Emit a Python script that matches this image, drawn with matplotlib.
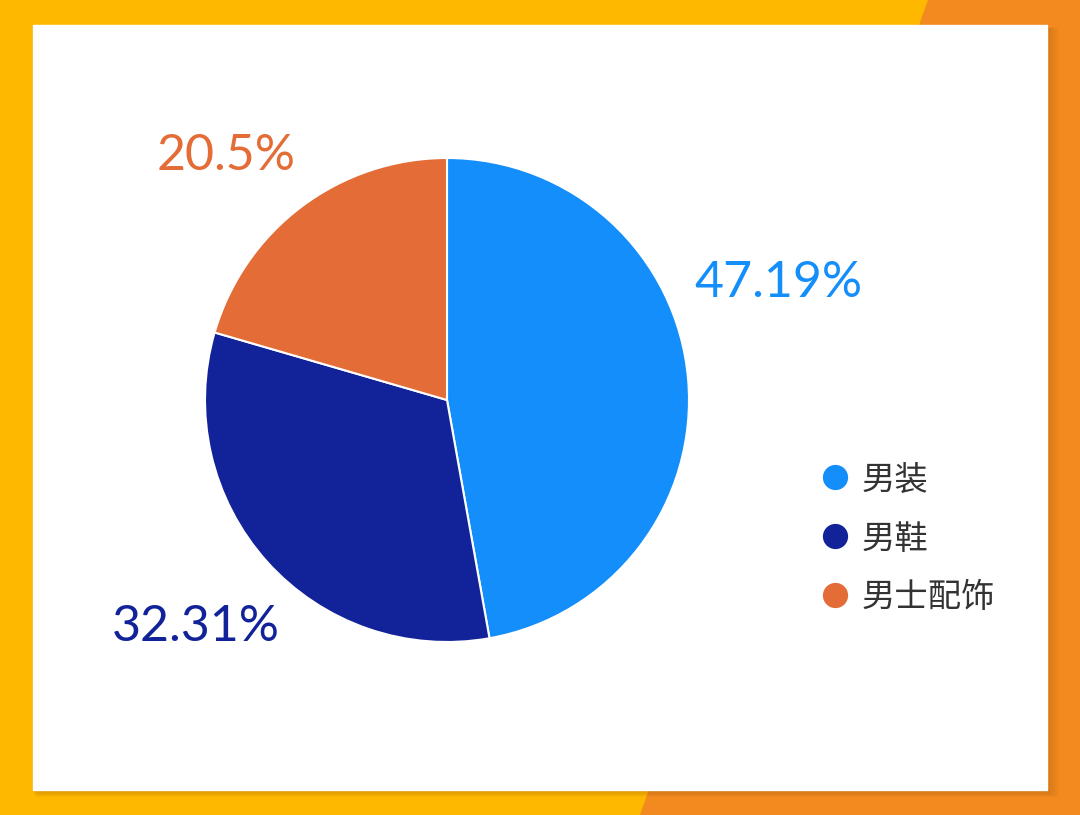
import matplotlib
matplotlib.use("Agg")
import matplotlib.pyplot as plt
from matplotlib.patches import Rectangle, Polygon

categories = ["男装", "男鞋", "男士配饰"]
shares = [47.19, 32.31, 20.5]
colors = ["#148EFA", "#12239A", "#E36C37"]
label_pos = [(778, 283), (196, 627), (226, 156)]  # label centres, image pixels


def main():
    fig = plt.figure(figsize=(10.8, 8.15), dpi=100)
    ax = fig.add_axes([0, 0, 1, 1])
    ax.set_xlim(0, 1080)
    ax.set_ylim(0, 815)
    ax.set_aspect("equal")
    ax.axis("off")

    # background: yellow with an orange diagonal band on the right
    ax.add_patch(Rectangle((0, 0), 1080, 815, color="#FFB800", zorder=0))
    ax.add_patch(Polygon([(928, 815), (1080, 815), (1080, 0), (640, 0)],
                         closed=True, color="#F28A20", zorder=0))

    # soft shadow under the white card
    for i in range(8):
        ax.add_patch(Rectangle((33 - 1 + i * 0.6, 25 - 1 - i * 0.9), 1014 + i * 1.2, 765 + i * 0.6,
                               color="#7a4a00", alpha=0.035, lw=0, zorder=1))
    ax.add_patch(Rectangle((33, 25), 1014, 765, color="white", zorder=2))

    wedges, _ = ax.pie(shares, colors=colors, startangle=90, counterclock=False,
                       center=(447, 815 - 400), radius=242,
                       wedgeprops=dict(edgecolor="white", linewidth=1.5),
                       frame=True)
    for w in wedges:
        w.set_zorder(3)
    ax.set_xlim(0, 1080)
    ax.set_ylim(0, 815)
    ax.axis("off")

    for val, col, (x, y) in zip(shares, colors, label_pos):
        ax.text(x, 815 - y, f"{val:g}%", color=col, fontsize=36, family="Lato",
                ha="center", va="center", zorder=4)

    # legend
    for i, (name, col) in enumerate(zip(categories, colors)):
        y = 815 - (477 + i * 59)
        ax.scatter([835], [y], s=330, color=col, lw=0, zorder=4)
        ax.text(862, y - 3, name, color="#333333", fontsize=24,
                family=["Noto Sans CJK SC", "DejaVu Sans"], ha="left", va="center", zorder=4)

    fig.savefig("out.png", dpi=100)


if __name__ == "__main__":
    main()
